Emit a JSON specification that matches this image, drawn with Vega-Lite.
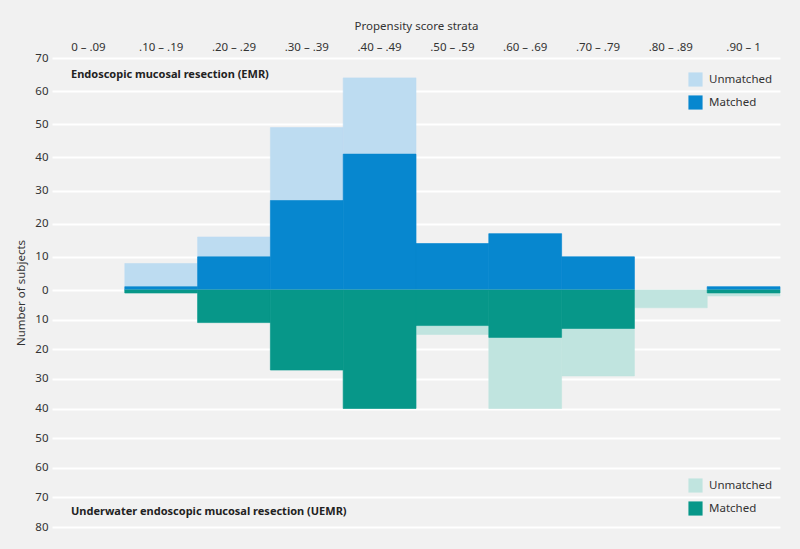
{
  "$schema": "https://vega.github.io/schema/vega-lite/v6.json",
  "autosize": {"type": "none"},
  "padding": {"left": 52, "top": 58, "right": 20, "bottom": 22},
  "width": 728,
  "height": 469,
  "background": "#f1f1f1",
  "config": {
    "view": {"stroke": null},
    "font": "Noto Sans",
    "text": {"font": "Noto Sans"}
  },
  "datasets": {
    "emr": [
      {"stratum": ".10 – .19", "status": "Unmatched", "subjects": 8},
      {"stratum": ".20 – .29", "status": "Unmatched", "subjects": 16},
      {"stratum": ".30 – .39", "status": "Unmatched", "subjects": 49},
      {"stratum": ".40 – .49", "status": "Unmatched", "subjects": 64},
      {"stratum": ".50 – .59", "status": "Unmatched", "subjects": 14},
      {"stratum": ".60 – .69", "status": "Unmatched", "subjects": 17},
      {"stratum": ".70 – .79", "status": "Unmatched", "subjects": 10},
      {"stratum": ".90 – 1", "status": "Unmatched", "subjects": 1},
      {"stratum": ".10 – .19", "status": "Matched", "subjects": 1},
      {"stratum": ".20 – .29", "status": "Matched", "subjects": 10},
      {"stratum": ".30 – .39", "status": "Matched", "subjects": 27},
      {"stratum": ".40 – .49", "status": "Matched", "subjects": 41},
      {"stratum": ".50 – .59", "status": "Matched", "subjects": 14},
      {"stratum": ".60 – .69", "status": "Matched", "subjects": 17},
      {"stratum": ".70 – .79", "status": "Matched", "subjects": 10},
      {"stratum": ".90 – 1", "status": "Matched", "subjects": 1}
    ],
    "uemr": [
      {"stratum": ".10 – .19", "status": "Unmatched", "subjects": -1},
      {"stratum": ".20 – .29", "status": "Unmatched", "subjects": -11},
      {"stratum": ".30 – .39", "status": "Unmatched", "subjects": -27},
      {"stratum": ".40 – .49", "status": "Unmatched", "subjects": -40},
      {"stratum": ".50 – .59", "status": "Unmatched", "subjects": -15},
      {"stratum": ".60 – .69", "status": "Unmatched", "subjects": -40},
      {"stratum": ".70 – .79", "status": "Unmatched", "subjects": -29},
      {"stratum": ".80 – .89", "status": "Unmatched", "subjects": -6},
      {"stratum": ".90 – 1", "status": "Unmatched", "subjects": -2},
      {"stratum": ".10 – .19", "status": "Matched", "subjects": -1},
      {"stratum": ".20 – .29", "status": "Matched", "subjects": -11},
      {"stratum": ".30 – .39", "status": "Matched", "subjects": -27},
      {"stratum": ".40 – .49", "status": "Matched", "subjects": -40},
      {"stratum": ".50 – .59", "status": "Matched", "subjects": -12},
      {"stratum": ".60 – .69", "status": "Matched", "subjects": -16},
      {"stratum": ".70 – .79", "status": "Matched", "subjects": -13},
      {"stratum": ".90 – 1", "status": "Matched", "subjects": -1}
    ],
    "labels": [
      {"stratum": "0 – .09", "subjects": 65, "label": "Endoscopic mucosal resection (EMR)"},
      {"stratum": "0 – .09", "subjects": -75, "label": "Underwater endoscopic mucosal resection (UEMR)"}
    ]
  },
  "encoding": {
    "x": {
      "field": "stratum",
      "type": "ordinal",
      "sort": ["0 – .09", ".10 – .19", ".20 – .29", ".30 – .39", ".40 – .49", ".50 – .59", ".60 – .69", ".70 – .79", ".80 – .89", ".90 – 1"],
      "scale": {
        "domain": ["0 – .09", ".10 – .19", ".20 – .29", ".30 – .39", ".40 – .49", ".50 – .59", ".60 – .69", ".70 – .79", ".80 – .89", ".90 – 1"],
        "paddingInner": 0,
        "paddingOuter": 0
      },
      "axis": {
        "orient": "top",
        "title": "Propensity score strata",
        "titleFontWeight": "normal",
        "titleFontSize": 11.5,
        "titleColor": "#333333",
        "titlePadding": 10,
        "labelAngle": 0,
        "labelFontSize": 11.5,
        "labelColor": "#333333",
        "labelPadding": 6,
        "ticks": false,
        "domain": false,
        "grid": false
      }
    },
    "y": {
      "field": "subjects",
      "type": "quantitative",
      "scale": {"domain": [-80, 0, 70], "range": [469, 232, 0], "nice": false, "zero": false},
      "axis": {
        "values": [-80, -70, -60, -50, -40, -30, -20, -10, 0, 10, 20, 30, 40, 50, 60, 70],
        "labelExpr": "abs(datum.value)",
        "title": "Number of subjects",
        "titleFontWeight": "normal",
        "titleFontSize": 11.5,
        "titleColor": "#333333",
        "titlePadding": 8,
        "labelFontSize": 11.5,
        "labelColor": "#333333",
        "labelPadding": 4,
        "ticks": false,
        "domain": false,
        "grid": true,
        "gridColor": "#ffffff",
        "gridWidth": 2
      }
    }
  },
  "layer": [
    {
      "data": {"name": "emr"},
      "mark": {"type": "bar", "strokeWidth": 0.6},
      "encoding": {
        "y": {"field": "subjects", "type": "quantitative", "stack": null},
        "y2": {"datum": 0},
        "stroke": {
          "field": "status",
          "type": "nominal",
          "scale": {"domain": ["Unmatched", "Matched"], "range": ["#bddcf1", "#0787cf"]},
          "legend": null
        },
        "color": {
          "field": "status",
          "type": "nominal",
          "sort": ["Unmatched", "Matched"],
          "scale": {"domain": ["Unmatched", "Matched"], "range": ["#bddcf1", "#0787cf"]},
          "legend": {
            "title": null,
            "orient": "none",
            "legendX": 636,
            "legendY": 14,
            "symbolType": "square",
            "symbolSize": 200,
            "symbolStrokeWidth": 0,
            "symbolOpacity": 1,
            "labelFontSize": 11.5,
            "labelColor": "#333333",
            "rowPadding": 8,
            "labelOffset": 6
          }
        }
      }
    },
    {
      "data": {"name": "uemr"},
      "mark": {"type": "bar", "strokeWidth": 0.6},
      "encoding": {
        "y": {"field": "subjects", "type": "quantitative", "stack": null},
        "y2": {"datum": 0},
        "stroke": {
          "field": "status",
          "type": "nominal",
          "scale": {"domain": ["Unmatched", "Matched"], "range": ["#c0e4df", "#079789"]},
          "legend": null
        },
        "color": {
          "field": "status",
          "type": "nominal",
          "sort": ["Unmatched", "Matched"],
          "scale": {"domain": ["Unmatched", "Matched"], "range": ["#c0e4df", "#079789"]},
          "legend": {
            "title": null,
            "orient": "none",
            "legendX": 636,
            "legendY": 420,
            "symbolType": "square",
            "symbolSize": 200,
            "symbolStrokeWidth": 0,
            "symbolOpacity": 1,
            "labelFontSize": 11.5,
            "labelColor": "#333333",
            "rowPadding": 8,
            "labelOffset": 6
          }
        }
      }
    },
    {
      "data": {"values": [{}]},
      "mark": {"type": "rule", "color": "#a6a6a6", "strokeWidth": 2},
      "encoding": {"y": {"datum": 0}, "x": null}
    },
    {
      "data": {"name": "labels"},
      "mark": {"type": "text", "align": "left", "baseline": "middle", "fontWeight": "bold", "fontSize": 11, "color": "#222222", "dx": 19},
      "encoding": {
        "x": {"field": "stratum", "type": "ordinal", "bandPosition": 0},
        "y": {"field": "subjects", "type": "quantitative"},
        "text": {"field": "label", "type": "nominal"}
      }
    }
  ],
  "resolve": {"scale": {"color": "independent", "stroke": "independent"}}
}
